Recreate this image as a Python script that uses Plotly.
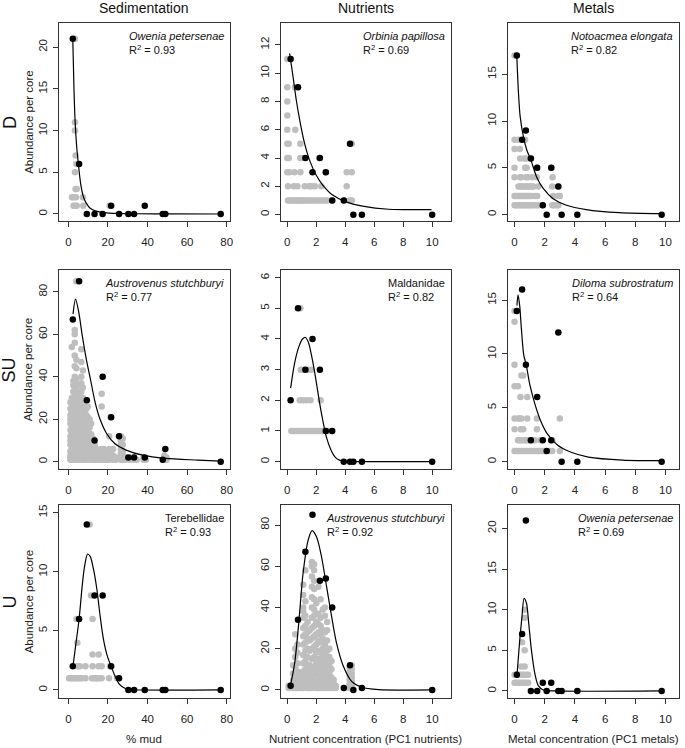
import plotly.graph_objects as go

W, H = 685, 748

# ---------------- site-level x values (black points) ----------------
mud_sites = [2.2, 5.4, 9.3, 13.2, 17.3, 21.6, 25.6, 30.3, 33.2, 38.6, 47.7, 49.0, 77.0]
nut_sites = [0.23, 0.74, 1.25, 1.74, 2.25, 2.66, 3.1, 3.9, 4.33, 4.56, 5.15, 10.0]
met_sites = [0.15, 0.5, 0.75, 1.08, 1.5, 1.87, 2.13, 2.43, 2.9, 3.12, 4.16, 9.75]

# ---------------- site means (black) ----------------
d_sed_black = [21, 6, 0, 0, 0, 1, 0, 0, 0, 1, 0, 0, 0]
su_sed_black = [67, 85, 29, 10, 40, 21, 12, 2, 2, 2, 1, 6, 0]
u_sed_black = [2, 6, 14, 8, 8, 2, 1, 0, 0, 0, 0, 0, 0]
d_nut_black = [11, 9, 4, 3, 4, 3, 1, 1, 5, 0, 0, 0]
su_nut_black = [2, 5, 3, 4, 3, 1, 1, 0, 0, 0, 0, 0]
u_nut_black = [2, 34, 67, 85, 53, 54, 40, 1, 12, 0, 1, 0]
d_met_black = [17, 8, 9, 6, 5, 1, 0, 5, 3, 0, 0, 0]
su_met_black = [14, 16, 9, 2, 6, 2, 1, 2, 12, 0, 0, 0]
u_met_black = [2, 7, 21, 0, 0, 1, 0, 1, 0, 0, 0, 0]

# ---------------- core-level values (grey), as (abundance, [x values]) rows ----------------
d_sed_grey = [
    (21, [3.3]), (11, [3.3]), (10, [3.3]), (7, [3.6]), (6, [4.0]), (5, [3.3]),
    (3, [3.6, 4.2]), (2, [1.8, 2.8, 3.8, 7.3]), (1, [2.6, 3.4, 4.2, 7.5, 20.8]),
]
d_nut_grey = [
    (11, [0.0]), (9, [0.0, 0.53]), (8, [0.0]), (7, [0.0]), (6, [0.0, 0.55]),
    (5, [0.0, 0.1, 0.9, 4.45]), (4, [0.0, 0.1, 0.9, 1.05, 2.2]),
    (3, [0.0, 0.15, 0.5, 0.9, 2.65, 4.1, 4.45]),
    (2, [0.05, 0.45, 0.7, 1.2, 1.5, 1.65, 1.9, 2.35, 4.1]),
    (1, [0.05, 0.15, 0.25, 0.35, 0.45, 0.55, 0.65, 0.75, 0.85, 0.95, 1.05, 1.15, 1.25,
         1.4, 1.55, 1.7, 1.85, 2.0, 2.15, 2.3, 2.45, 2.6, 2.75, 3.1, 3.95, 4.3, 4.45]),
]
d_met_grey = [
    (17, [0.0]), (8, [0.0, 0.26, 0.7]), (7, [0.0, 0.35]), (6, [0.37, 0.65, 0.77, 1.1]),
    (5, [0.0, 0.7, 0.8, 1.47, 2.45]),
    (4, [0.0, 0.37, 0.44, 0.77, 0.88, 1.18, 1.47, 2.52]),
    (3, [0.26, 0.36, 0.46, 0.56, 0.66, 0.76, 0.86, 0.96, 1.06, 1.16, 1.25, 1.58, 2.5, 2.9]),
    (2, [0.0, 0.1, 0.2, 0.3, 0.4, 0.5, 0.6, 0.7, 0.8, 0.9, 1.0, 1.14, 1.36, 1.5, 2.56, 2.9, 3.0]),
    (1, [0.0, 0.1, 0.2, 0.3, 0.4, 0.5, 0.6, 0.7, 0.8, 0.9, 1.0, 1.1, 1.2, 1.35, 1.45, 1.58,
         1.86, 2.5, 2.6, 2.7, 2.8, 2.9]),
]
# SU sediment: (x, [abundances]) columns
su_sed_grey_cols = [
    (1.0, [1, 2, 3, 5, 8, 10, 12, 15, 18, 20, 22, 25, 28]),
    (1.7, [1, 2, 4, 6, 9, 11, 14, 17, 19, 21, 24, 27, 30, 54]),
    (2.5, [1, 3, 5, 7, 10, 13, 16, 20, 23, 26, 29, 33, 36, 38]),
    (3.2, [1, 2, 4, 6, 9, 12, 15, 18, 21, 24, 27, 30, 32, 35, 37, 40, 45, 50, 56, 60, 62]),
    (4.0, [2, 5, 8, 11, 14, 17, 20, 23, 26, 29, 34, 39, 44, 48, 85]),
    (4.8, [1, 3, 6, 9, 12, 16, 19, 22, 25, 28, 31, 36]),
    (5.6, [1, 4, 7, 10, 13, 18, 21, 24, 27, 30]),
    (6.5, [2, 5, 8, 12, 15, 20, 26, 28, 33, 37, 40, 47, 53]),
    (7.3, [1, 3, 6, 9, 14, 17, 22, 25, 27, 30, 35, 43]),
    (8.2, [1, 4, 7, 10, 13, 16, 20, 23, 26, 29]),
    (9.0, [2, 5, 8, 11, 15, 18, 22, 25]),
    (9.8, [1, 3, 6, 10, 14, 17, 21, 26]),
    (10.7, [2, 4, 8, 12, 16, 20]),
    (11.5, [1, 3, 5, 9, 13, 18]),
    (12.5, [1, 2, 4, 7, 11]),
    (13.3, [1, 3, 5, 8]),
    (14.3, [1, 2, 4, 6]),
    (15.5, [1, 2, 3, 5]),
    (16.8, [1, 2, 4, 6, 26, 32]),
    (17.8, [1, 2, 6]),
    (18.7, [1, 2, 4]),
    (19.6, [1, 3]),
    (20.6, [1, 2, 6, 12]),
    (21.3, [2, 4, 21]),
    (22.6, [1, 3, 6]),
    (24.0, [1, 2]),
    (26.5, [1, 2, 4, 6, 8, 10, 12]),
    (27.5, [1, 3, 5, 8, 11]),
    (29.0, [1, 2]),
    (31.0, [1, 2]),
    (33.0, [1, 2]),
    (34.5, [1]),
    (38.0, [1, 2]),
    (39.2, [1]),
    (48.5, [1, 2, 3]),
    (49.6, [1, 2]),
]
su_nut_grey = [
    (5, [0.9]), (3, [0.93, 1.09, 1.44, 1.67]), (2, [0.86, 1.09, 1.32, 1.6, 2.3]),
    (1, [0.28, 0.4, 0.52, 0.64, 0.76, 0.88, 1.0, 1.12, 1.24, 1.36, 1.48, 1.6, 1.72, 1.84,
         1.96, 2.08, 2.2, 2.32, 2.44, 2.56, 2.8]),
]
su_met_grey = [
    (14, [0.0]), (13, [0.0]), (9, [0.0]), (8, [0.45, 0.57]), (7, [0.0, 0.23]), (6, [0.39, 0.84]),
    (4, [0.0, 0.23, 0.34, 0.45, 0.84, 1.48, 3.0]), (3, [0.0, 0.41, 0.57, 1.48]),
    (2, [0.23, 0.34, 0.45, 0.57, 0.68, 0.8, 0.91, 1.02, 1.25, 1.36, 1.7, 2.5]),
    (1, [0.0, 0.11, 0.23, 0.34, 0.45, 0.57, 0.68, 0.8, 0.91, 1.02, 1.14, 1.25, 1.36, 1.48,
         1.59, 1.7, 1.82, 1.93, 2.05, 2.27, 2.5, 3.0]),
]
u_sed_grey = [
    (14, [10.7]), (8, [11.4]), (6, [4.1, 12.2]), (4, [4.5]), (3, [12.2, 15.3]),
    (2, [4.5, 5.8, 8.6, 12.2, 15.2, 16.8, 21.0]),
    (1, [0.3, 1.2, 2.1, 3.0, 3.9, 4.8, 5.7, 6.6, 8.6, 11.9, 12.9, 13.8, 14.8, 15.8, 16.8,
         20.5, 24.6]),
]
u_nut_grey_cols = [
    (0.1, [1, 2]),
    (0.4, [1, 2, 3, 5, 8, 12]),
    (0.55, [1, 2, 4, 7, 11, 16, 20, 27]),
    (0.7, [1, 3, 6, 9, 13, 18, 22]),
    (0.95, [1, 2, 4, 6, 8]),
    (1.1, [1, 3, 5, 9, 13, 17, 22, 26, 30, 35, 38, 40, 46, 51]),
    (1.25, [2, 4, 7, 10, 14, 19, 23, 27, 31, 36, 43, 58]),
    (1.4, [1, 3, 6, 8, 12, 16, 20, 25, 28, 33]),
    (1.55, [1, 2, 5, 9, 12, 19, 24, 29]),
    (1.7, [1, 3, 6, 10, 15, 20, 25, 30, 35, 40, 45, 50, 55, 60, 62]),
    (1.85, [2, 4, 7, 11, 16, 21, 26, 31, 36, 39, 44, 49, 53, 58, 61]),
    (2.0, [1, 3, 5, 9, 13, 18, 22, 27, 33, 37, 42]),
    (2.15, [1, 2, 4, 7, 11, 15, 19, 24, 28, 32, 37, 50]),
    (2.3, [1, 3, 6, 10, 14, 18, 23, 27, 31, 35, 44]),
    (2.45, [1, 2, 5, 8, 12, 16, 20, 25, 29, 39]),
    (2.6, [1, 3, 6, 9, 13, 17, 22, 28, 36, 40]),
    (2.75, [1, 2, 4, 7, 11, 15, 19, 24, 29, 33]),
    (2.9, [1, 3, 5, 8, 12, 16, 20]),
    (3.05, [1, 2, 4, 6, 10, 14]),
    (3.2, [1, 2, 3, 5]),
    (3.35, [1, 2]),
    (4.3, [1, 2, 3, 5, 7, 9, 11]),
    (4.45, [1, 2, 4, 6, 8, 10, 12]),
]
u_met_grey = [
    (10, [0.67]), (9, [0.67]), (6, [0.5]), (5, [0.67]), (3, [0.45, 0.67]),
    (2, [0.0, 0.12, 0.25, 0.38, 0.5, 0.62, 0.75, 0.9]),
    (1, [0.0, 0.12, 0.25, 0.38, 0.5, 0.62, 0.75, 0.9]),
]

# ---------------- fitted curves ----------------
d_sed_fit_x = [2.2, 2.8, 3.4, 4.2, 5.2, 6.2, 7.5, 9, 11, 14, 18, 25, 35, 50, 77]
d_sed_fit_y = [21, 15, 11, 8, 5.6, 3.6, 2.1, 1.3, 0.7, 0.35, 0.17, 0.07, 0.03, 0.01, 0]
su_sed_fit_x = [2.3, 3.6, 5.3, 6.9, 9.1, 11.1, 13.5, 16, 19.3, 23.4, 29.2, 37.5, 49, 65.5, 77]
su_sed_fit_y = [69.5, 76.6, 70, 60, 48, 39, 28, 20, 13.3, 8.6, 5.5, 3.1, 1.6, 0.8, 0.3]
u_sed_fit_x = [2.3, 3.6, 5.4, 6.9, 8.1, 9.7, 11.0, 12.7, 14.4, 16.0, 17.7, 19.6, 21.6, 23.5, 25.7, 29, 33, 77]
u_sed_fit_y = [2, 3.7, 6.0, 8.7, 10.4, 11.5, 11.3, 10.2, 8.5, 6.3, 4.3, 2.9, 2.0, 1.2, 0.5, 0.1, 0.02, 0]
d_nut_fit_x = [0.16, 0.39, 0.62, 0.89, 1.19, 1.53, 1.99, 2.45, 3.13, 4.05, 5.2, 7.0, 9.95]
d_nut_fit_y = [11.4, 9.8, 8.1, 6.5, 5.05, 3.87, 2.8, 2.09, 1.38, 0.9, 0.6, 0.38, 0.36]
su_nut_fit_x = [0.23, 0.5, 0.8, 1.05, 1.25, 1.45, 1.7, 1.95, 2.2, 2.45, 2.7, 3.0, 3.3, 3.6, 4.0, 5, 10]
su_nut_fit_y = [2.4, 3.2, 3.75, 4.0, 4.05, 3.9, 3.4, 2.75, 2.0, 1.35, 0.8, 0.4, 0.15, 0.05, 0.01, 0, 0]
u_nut_fit_x = [0.21, 0.51, 0.79, 1.09, 1.44, 1.71, 2.01, 2.36, 2.71, 3.06, 3.4, 3.87, 4.44, 5.14, 6.3, 10]
u_nut_fit_y = [1.8, 13, 32.4, 56.6, 72.7, 77.3, 74.4, 64.7, 50.2, 35.6, 22.7, 11.5, 4.2, 1.3, 0.16, 0]
d_met_fit_x = [0.15, 0.26, 0.37, 0.59, 0.81, 1.09, 1.47, 1.9, 2.56, 3.44, 4.75, 6.94, 9.72]
d_met_fit_y = [16.9, 13, 10.5, 8.3, 6.9, 5.8, 4.0, 2.8, 1.7, 1.0, 0.54, 0.21, 0.1]
su_met_fit_x = [0.16, 0.23, 0.34, 0.45, 0.61, 0.77, 1.02, 1.36, 1.7, 2.16, 2.84, 3.75, 4.89, 7.16, 9.8]
su_met_fit_y = [14.5, 15.5, 14.5, 12.4, 9.9, 9, 7.1, 5.3, 3.9, 2.6, 1.55, 0.87, 0.43, 0.15, 0.09]
u_met_fit_x = [0.16, 0.34, 0.49, 0.63, 0.79, 0.94, 1.12, 1.35, 1.57, 1.91, 2.6, 9.7]
u_met_fit_y = [1.9, 6.2, 9.1, 11.4, 10.8, 8.3, 5.0, 2.1, 0.66, 0.12, 0, 0]

# ---------------- labels ----------------
col_titles = ["Sedimentation", "Nutrients", "Metals"]
row_labels = ["D", "SU", "U"]
x_titles = ["% mud", "Nutrient concentration (PC1 nutrients)", "Metal concentration (PC1 metals)"]
species = [
    ["<i>Owenia petersenae</i>", "<i>Orbinia papillosa</i>", "<i>Notoacmea elongata</i>"],
    ["<i>Austrovenus stutchburyi</i>", "Maldanidae", "<i>Diloma subrostratum</i>"],
    ["Terebellidae", "<i>Austrovenus stutchburyi</i>", "<i>Owenia petersenae</i>"],
]
r2_values = [["0.93", "0.69", "0.82"], ["0.77", "0.82", "0.64"], ["0.93", "0.92", "0.69"]]
x_ticks = [[0, 20, 40, 60, 80], [0, 2, 4, 6, 8, 10], [0, 2, 4, 6, 8, 10]]
y_ticks = [
    [[0, 5, 10, 15, 20], [0, 2, 4, 6, 8, 10, 12], [0, 5, 10, 15]],
    [[0, 20, 40, 60, 80], [0, 1, 2, 3, 4, 5, 6], [0, 5, 10, 15]],
    [[0, 5, 10, 15], [0, 20, 40, 60, 80], [0, 5, 10, 15, 20]],
]
x_ranges = [[-4.9, 81.7], [-0.45, 11.3], [-0.45, 10.9]]
y_ranges = [
    [[-0.84, 22.9], [-0.45, 13.54], [-0.68, 20.47]],
    [[-3.4, 90.3], [-0.24, 6.25], [-0.68, 17.8]],
    [[-0.68, 15.65], [-3.9, 89.7], [-0.87, 22.9]],
]

# ---------------- layout geometry (pixels) ----------------
col_px = [(59, 231), (282, 453), (510, 682)]
row_px = [(23, 221), (270, 469), (505, 698)]


def rows_to_xy(rows):
    xs, ys = [], []
    for yv, xl in rows:
        for xv in xl:
            xs.append(xv)
            ys.append(yv)
    return xs, ys


def cols_to_xy(cols):
    xs, ys = [], []
    for xv, yl in cols:
        for yv in yl:
            xs.append(xv)
            ys.append(yv)
    return xs, ys


greys = [
    [rows_to_xy(d_sed_grey), rows_to_xy(d_nut_grey), rows_to_xy(d_met_grey)],
    [cols_to_xy(su_sed_grey_cols), rows_to_xy(su_nut_grey), rows_to_xy(su_met_grey)],
    [rows_to_xy(u_sed_grey), cols_to_xy(u_nut_grey_cols), rows_to_xy(u_met_grey)],
]
sites = [mud_sites, nut_sites, met_sites]
blacks = [
    [d_sed_black, d_nut_black, d_met_black],
    [su_sed_black, su_nut_black, su_met_black],
    [u_sed_black, u_nut_black, u_met_black],
]
fits = [
    [(d_sed_fit_x, d_sed_fit_y), (d_nut_fit_x, d_nut_fit_y), (d_met_fit_x, d_met_fit_y)],
    [(su_sed_fit_x, su_sed_fit_y), (su_nut_fit_x, su_nut_fit_y), (su_met_fit_x, su_met_fit_y)],
    [(u_sed_fit_x, u_sed_fit_y), (u_nut_fit_x, u_nut_fit_y), (u_met_fit_x, u_met_fit_y)],
]

FONT = "Liberation Sans, Arial, sans-serif"
AX_COLOR = "#333333"
GREY = "#BEBEBE"

fig = go.Figure()
layout = dict(
    width=W, height=H, margin=dict(l=0, r=0, t=0, b=0),
    paper_bgcolor="white", plot_bgcolor="white", showlegend=False,
    font=dict(family=FONT, color="#111111", size=11),
)
annotations = []

for r in range(3):
    for c in range(3):
        n = r * 3 + c + 1
        xa = "x" if n == 1 else f"x{n}"
        ya = "y" if n == 1 else f"y{n}"
        gx, gy = greys[r][c]
        fig.add_trace(go.Scatter(x=gx, y=gy, mode="markers", xaxis=xa, yaxis=ya,
                                 marker=dict(color=GREY, size=6.5, line=dict(width=0)),
                                 hoverinfo="skip"))
        fx, fy = fits[r][c]
        fig.add_trace(go.Scatter(x=fx, y=fy, mode="lines", xaxis=xa, yaxis=ya,
                                 line=dict(color="black", width=1.2, shape="spline", smoothing=0.8),
                                 hoverinfo="skip"))
        fig.add_trace(go.Scatter(x=sites[c], y=blacks[r][c], mode="markers", xaxis=xa, yaxis=ya,
                                 marker=dict(color="black", size=6.5, line=dict(width=0)),
                                 hoverinfo="skip"))
        x0, x1 = col_px[c]
        t0, t1 = row_px[r]
        xkey = "xaxis" if n == 1 else f"xaxis{n}"
        ykey = "yaxis" if n == 1 else f"yaxis{n}"
        layout[xkey] = dict(
            domain=[x0 / W, x1 / W], anchor=ya, range=x_ranges[c],
            tickmode="array", tickvals=x_ticks[c], ticktext=[str(v) for v in x_ticks[c]],
            ticks="outside", ticklen=5, tickwidth=1, tickcolor=AX_COLOR,
            showline=True, linecolor=AX_COLOR, linewidth=1, mirror=True,
            showgrid=False, zeroline=False, ticklabelstandoff=5,
            tickfont=dict(size=11.5, family=FONT, color="#222222"),
        )
        layout[ykey] = dict(
            domain=[1 - t1 / H, 1 - t0 / H], anchor=xa, range=y_ranges[r][c],
            tickmode="array", tickvals=y_ticks[r][c], ticktext=[str(v) for v in y_ticks[r][c]],
            ticks="outside", ticklen=5, tickwidth=1, tickcolor=AX_COLOR, tickangle=-90,
            showline=True, linecolor=AX_COLOR, linewidth=1, mirror=True,
            showgrid=False, zeroline=False, ticklabelstandoff=1,
            tickfont=dict(size=11.5, family=FONT, color="#222222"),
        )
        annotations.append(dict(
            xref=f"{xa} domain", yref=f"{ya} domain", x=1, y=1, xanchor="right", yanchor="top",
            xshift=-4, yshift=-5, align="left", showarrow=False,
            text=f"{species[r][c]}<br>R<sup>2</sup> = {r2_values[r][c]}",
            font=dict(size=11, family=FONT, color="#111111"),
        ))

for c in range(3):
    x0, x1 = col_px[c]
    annotations.append(dict(xref="paper", yref="paper", x=(x0 + x1) / 2 / W, y=1 - 8 / H,
                            xanchor="center", yanchor="middle", showarrow=False,
                            text=col_titles[c], font=dict(size=14, family=FONT, color="#111111")))
    annotations.append(dict(xref="paper", yref="paper", x=(x0 + x1) / 2 / W, y=1 - 739 / H,
                            xanchor="center", yanchor="middle", showarrow=False,
                            text=x_titles[c], font=dict(size=11.5, family=FONT, color="#222222")))
for r in range(3):
    t0, t1 = row_px[r]
    yc = 1 - (t0 + t1) / 2 / H
    annotations.append(dict(xref="paper", yref="paper", x=10 / W, y=yc, xanchor="center",
                            yanchor="middle", showarrow=False, textangle=-90, text=row_labels[r],
                            font=dict(size=18, family=FONT, color="#111111")))
    annotations.append(dict(xref="paper", yref="paper", x=29 / W, y=yc, xanchor="center",
                            yanchor="middle", showarrow=False, textangle=-90,
                            text="Abundance per core",
                            font=dict(size=11.5, family=FONT, color="#222222")))

layout["annotations"] = annotations
fig.update_layout(**layout)
fig.write_html(
    "out.html",
    config={"displayModeBar": False},
    post_script="document.body.style.margin='0';document.body.style.overflow='hidden';",
)
